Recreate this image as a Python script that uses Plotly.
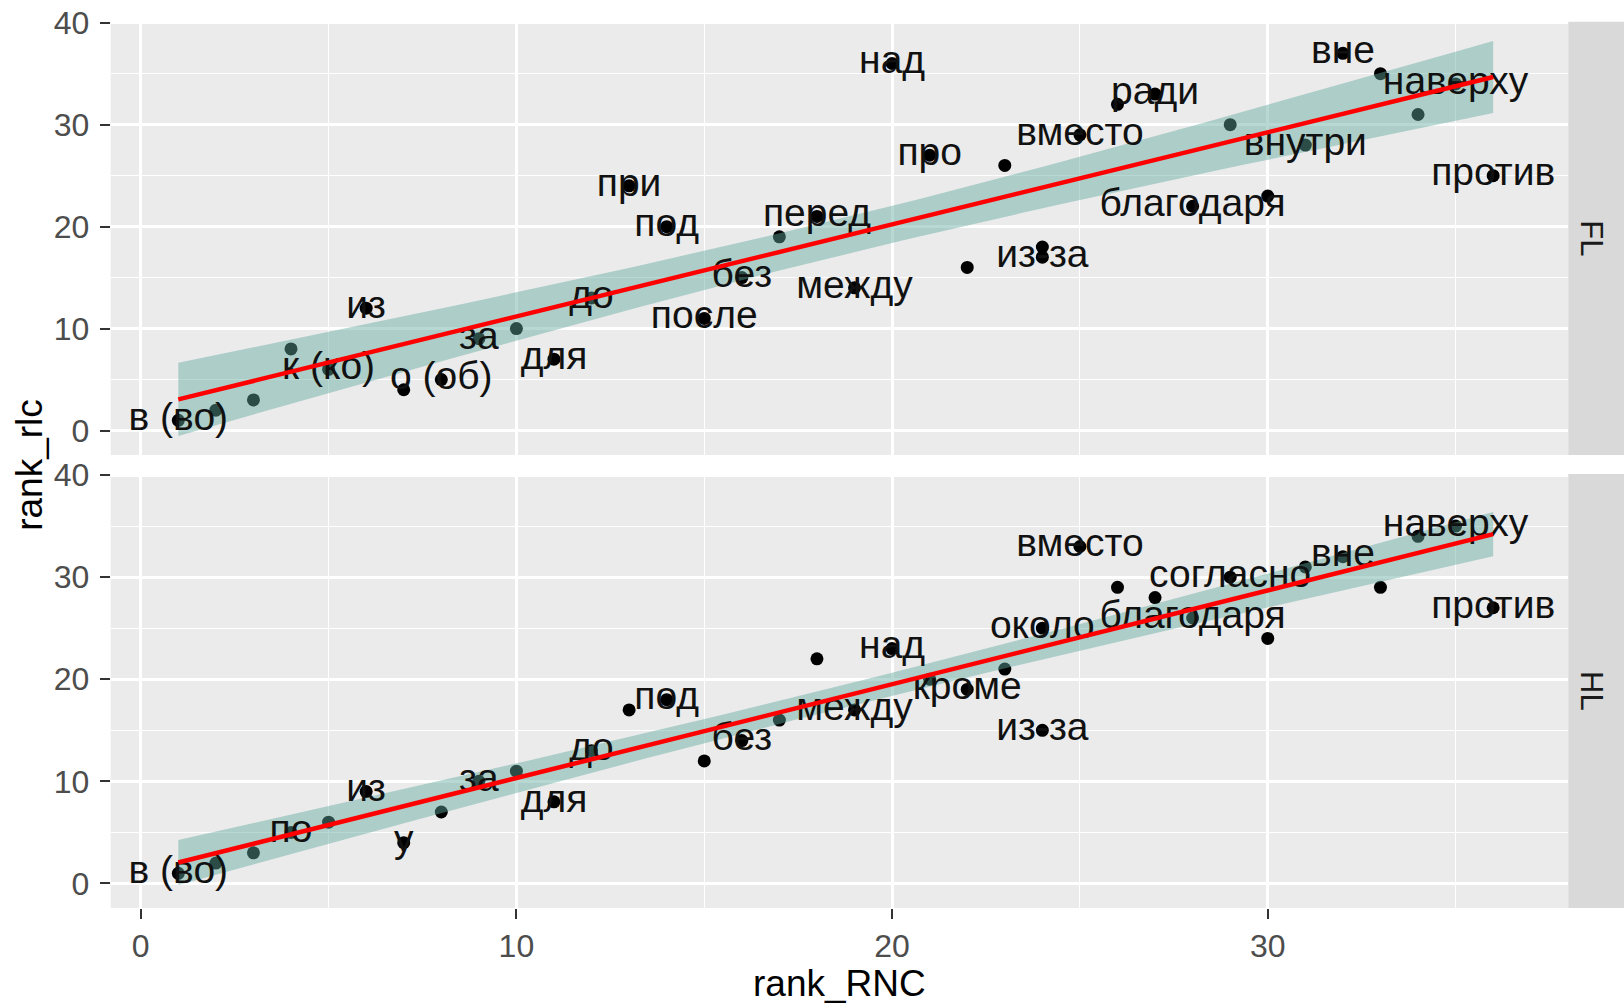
import math
import numpy as np
import plotly.graph_objects as go

# ---------------- data ----------------
rank_RNC = [1, 2, 3, 4, 5, 6, 7, 8, 9, 10, 11, 12, 13, 14, 15, 16, 17, 18, 19, 20,
            21, 22, 23, 24, 24, 25, 26, 27, 28, 29, 30, 31, 32, 33, 34, 35, 36]

rank_rlc_FL = [1, 2, 3, 8, 6, 12, 4, 5, 9, 10, 7, 13, 24, 20, 11, 15, 19, 21, 14, 36,
               27, 16, 26, 17, 18, 29, 32, 33, 22, 30, 23, 28, 37, 35, 31, 34, 25]

rank_rlc_HL = [1, 2, 3, 5, 6, 9, 4, 7, 10, 11, 8, 13, 17, 18, 12, 14, 16, 22, 17, 23,
               20, 19, 21, 15, 25, 33, 29, 28, 26, 30, 24, 31, 32, 29, 34, 35, 27]

labels_FL = ["в (во)", "", "", "", "к (ко)", "из", "", "о (об)", "за", "", "для", "до",
             "при", "под", "после", "без", "", "перед", "между", "над", "про", "", "",
             "из-за", "", "вместо", "", "ради", "благодаря", "", "", "внутри", "вне",
             "", "", "наверху", "против"]

labels_HL = ["в (во)", "", "", "по", "", "из", "у", "", "за", "", "для", "до",
             "", "под", "", "без", "", "", "между", "над", "", "кроме", "",
             "из-за", "около", "вместо", "", "", "благодаря", "согласно", "", "", "вне",
             "", "", "наверху", "против"]

panels = ["FL", "HL"]
x_ticks = [0, 10, 20, 30]
y_ticks = [0, 10, 20, 30, 40]

# ---------------- helpers ----------------
W, H = 1624, 1008
FONT = "Liberation Sans, Arial, sans-serif"


def t_quantile(p, df):
    c = math.exp(math.lgamma((df + 1) / 2) - math.lgamma(df / 2)) / math.sqrt(df * math.pi)
    t = np.linspace(0, 12, 24001)
    pdf = c * (1 + t ** 2 / df) ** (-(df + 1) / 2)
    cdf = 0.5 + np.concatenate([[0], np.cumsum((pdf[1:] + pdf[:-1]) / 2 * np.diff(t))])
    return float(np.interp(p, cdf, t))


def lm_band(x, y, n_out=80):
    x = np.asarray(x, float)
    y = np.asarray(y, float)
    n = len(x)
    xm = x.mean()
    sxx = ((x - xm) ** 2).sum()
    b1 = ((x - xm) * (y - y.mean())).sum() / sxx
    b0 = y.mean() - b1 * xm
    res = y - (b0 + b1 * x)
    s = math.sqrt((res ** 2).sum() / (n - 2))
    xs = np.linspace(x.min(), x.max(), n_out)
    fit = b0 + b1 * xs
    se = s * np.sqrt(1 / n + (xs - xm) ** 2 / sxx)
    tq = t_quantile(0.975, n - 2)
    return xs, fit, fit - tq * se, fit + tq * se


def py(px):
    return 1 - px / H


def pxx(px):
    return px / W


# panel geometry (pixels)
x_left, x_right = 110.7, 1568.3
panel_y = [(21.7, 455.0), (474.0, 908.0)]

fig = go.Figure()

series = [rank_rlc_FL, rank_rlc_HL]
labs = [labels_FL, labels_HL]
for i, name in enumerate(panels):
    xa = "x" if i == 0 else "x2"
    ya = "y" if i == 0 else "y2"
    # points
    fig.add_trace(go.Scatter(x=rank_RNC, y=series[i], mode="markers", xaxis=xa, yaxis=ya,
                             marker=dict(color="black", size=13), showlegend=False,
                             hoverinfo="skip"))
    # confidence band
    xs, fit, lo, hi = lm_band(rank_RNC, series[i])
    fig.add_trace(go.Scatter(x=np.concatenate([xs, xs[::-1]]), y=np.concatenate([hi, lo[::-1]]),
                             mode="lines", fill="toself", fillcolor="rgba(96,168,157,0.45)",
                             line=dict(width=0), xaxis=xa, yaxis=ya, showlegend=False,
                             hoverinfo="skip"))
    # labels
    fig.add_trace(go.Scatter(x=rank_RNC, y=series[i], mode="text", text=labs[i], xaxis=xa,
                             yaxis=ya, textposition="middle center",
                             textfont=dict(family=FONT, size=39, color="#111111"),
                             showlegend=False, hoverinfo="skip"))
    # regression line
    fig.add_trace(go.Scatter(x=xs, y=fit, mode="lines", line=dict(color="#FF0000", width=4.5),
                             xaxis=xa, yaxis=ya, showlegend=False, hoverinfo="skip"))

grid = dict(showgrid=True, gridcolor="white", gridwidth=2.6, zeroline=False, showline=False,
            automargin=False,
            minor=dict(showgrid=True, gridcolor="white", gridwidth=1.3, dtick=5, ticks=""))

xdom = [pxx(x_left), pxx(x_right)]
xrange_ = [-0.8, 38.0]
yrange_ = [-2.4, 40.1]
tickfont = dict(family=FONT, size=32, color="#4D4D4D")

fig.update_layout(
    width=W, height=H,
    margin=dict(l=0, r=0, t=0, b=0, pad=0),
    paper_bgcolor="white", plot_bgcolor="#EBEBEB",
    font=dict(family=FONT),
    xaxis=dict(domain=xdom, range=xrange_, anchor="y", tickvals=x_ticks, showticklabels=False,
               ticks="", **grid),
    yaxis=dict(domain=[py(panel_y[0][1]), py(panel_y[0][0])], range=yrange_, anchor="x",
               tickvals=y_ticks, ticks="outside", ticklen=10, tickwidth=2.2, tickcolor="#333333",
               tickfont=tickfont, ticklabelstandoff=4, **grid),
    xaxis2=dict(domain=xdom, range=xrange_, anchor="y2", tickvals=x_ticks, ticks="outside",
                ticklen=10, tickwidth=2.2, tickcolor="#333333", tickfont=tickfont,
                ticklabelstandoff=0, **grid),
    yaxis2=dict(domain=[py(panel_y[1][1]), py(panel_y[1][0])], range=yrange_, anchor="x2",
                tickvals=y_ticks, ticks="outside", ticklen=10, tickwidth=2.2, tickcolor="#333333",
                tickfont=tickfont, ticklabelstandoff=4, **grid),
)

shapes = []
annotations = []
for i, name in enumerate(panels):
    y0, y1 = panel_y[i]
    shapes.append(dict(type="rect", xref="paper", yref="paper", x0=pxx(x_right), x1=1.0,
                       y0=py(y1), y1=py(y0), fillcolor="#D9D9D9", line=dict(width=0),
                       layer="below"))
    annotations.append(dict(text=name, xref="paper", yref="paper", x=pxx(1592),
                            y=py((y0 + y1) / 2), showarrow=False, textangle=90,
                            font=dict(family=FONT, size=31, color="#1A1A1A"),
                            xanchor="center", yanchor="middle"))

annotations.append(dict(text="rank_RNC", xref="paper", yref="paper", x=pxx((x_left + x_right) / 2),
                        y=py(983), showarrow=False, font=dict(family=FONT, size=37, color="black"),
                        xanchor="center", yanchor="middle"))
annotations.append(dict(text="rank_rlc", xref="paper", yref="paper", x=pxx(30),
                        y=py((panel_y[0][0] + panel_y[1][1]) / 2), showarrow=False, textangle=-90,
                        font=dict(family=FONT, size=37, color="black"),
                        xanchor="center", yanchor="middle"))
fig.update_layout(shapes=shapes, annotations=annotations)

fig.write_html("out.html",
               config={"displayModeBar": False},
               post_script="document.body.style.margin='0px';"
                           "document.body.style.padding='0px';"
                           "document.body.style.overflow='hidden';")
